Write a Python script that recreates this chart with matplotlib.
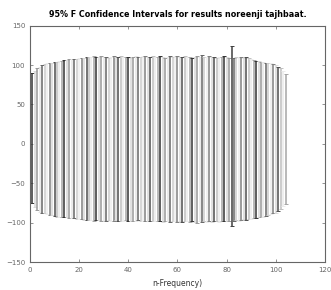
import matplotlib
matplotlib.use("Agg")
import matplotlib.pyplot as plt

title = "95% F Confidence Intervals for results noreenji tajhbaat."
xlabel = "n-Frequency)"
xticks = [0, 20, 40, 60, 80, 100, 120]
yticks = [-150, -100, -50, 0, 50, 100, 150]

x = list(range(1, 105))
upper = [90, 93, 96, 98, 100, 101, 102, 103, 103, 104,
         104, 105, 105, 106, 106, 107, 107, 108, 108, 109,
         109, 109, 110, 110, 110, 111, 110, 110, 111, 110,
         110, 109, 110, 111, 110, 110, 111, 110, 110, 110,
         109, 110, 111, 110, 110, 111, 112, 110, 110, 111,
         110, 110, 111, 110, 109, 110, 111, 110, 112, 111,
         110, 110, 111, 110, 110, 109, 110, 111, 110, 113,
         110, 110, 111, 110, 110, 109, 110, 110, 111, 110,
         109, 124, 109, 110, 109, 110, 109, 110, 109, 107,
         106, 105, 105, 104, 104, 103, 103, 102, 101, 100,
         98, 96, 93, 89]
lower = [-75, -80, -84, -86, -87, -88, -89, -90, -90, -91,
         -92, -92, -93, -93, -93, -94, -94, -94, -95, -95,
         -95, -96, -96, -96, -96, -97, -96, -96, -97, -96,
         -97, -96, -97, -97, -96, -97, -98, -97, -96, -97,
         -97, -98, -97, -96, -97, -98, -97, -97, -98, -97,
         -98, -97, -98, -99, -97, -98, -99, -98, -97, -99,
         -98, -99, -98, -97, -99, -98, -99, -100, -98, -99,
         -98, -99, -98, -99, -98, -97, -99, -98, -97, -98,
         -97, -104, -97, -96, -97, -96, -95, -96, -95, -95,
         -94, -94, -93, -93, -92, -91, -90, -89, -88, -87,
         -85, -82, -79, -76]
center = [0] * len(x)

shades = ["0.2", "0.85", "0.6", "0.9", "0.4", "0.8", "0.93",
          "0.5", "0.85", "0.3", "0.75", "0.92", "0.65"]

fig = plt.figure(figsize=(3.31, 2.90), dpi=100)
ax = fig.add_axes([0.0906, 0.095, 0.891, 0.817])

for i, (xi, lo, hi, c) in enumerate(zip(x, lower, upper, center)):
    col = shades[i % len(shades)]
    if hi - lo > 220:
        col = "0.25"
    ax.errorbar([xi], [c], yerr=[[c - lo], [hi - c]], fmt="none",
                ecolor=col, elinewidth=1.1, capsize=1.6, capthick=0.7)

ax.set_xlim(0, 120)
ax.set_ylim(-150, 150)
ax.set_xticks(xticks)
ax.set_yticks(yticks)
ax.tick_params(labelsize=5, length=2, width=0.5, direction="in",
               top=True, right=True, colors="0.4")
for s in ax.spines.values():
    s.set_linewidth(0.8)
    s.set_color("0.4")
ax.set_title(title, fontsize=5.8, fontweight="semibold", pad=6)
ax.set_xlabel(xlabel, fontsize=5.5, labelpad=4, color="0.2")

fig.savefig("out.png", dpi=100)
